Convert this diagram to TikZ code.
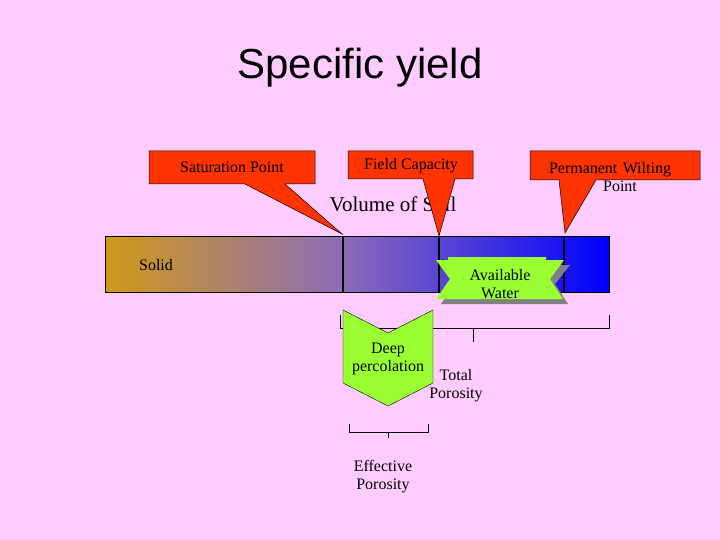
\documentclass[tikz,border=0pt]{standalone}
\usepackage{fontspec}
\setmainfont{Liberation Serif}
\newfontfamily\titlefont{Liberation Sans}
\begin{document}
\begin{tikzpicture}[x=1pt,y=-1pt,
  call/.style={fill=calred,draw=black,line width=0.5pt},
  lbl/.style={font=\fontsize{16}{18}\selectfont,align=center,inner sep=0pt},
  thick bar/.style={line width=2.5pt},
  brack/.style={line width=0.8pt}]
\definecolor{bg}{HTML}{FFCCFF}
\definecolor{calred}{HTML}{FF3300}
\definecolor{grn}{HTML}{99FF33}
\definecolor{gold}{HTML}{D09A18}
\definecolor{midp}{HTML}{8C6CB8}
\fill[bg] (0,0) rectangle (720,540);
\useasboundingbox (0,0) rectangle (720,540);
\node[font=\titlefont\fontsize{42}{46}\selectfont] (title) at (360,68) {Specific yield};
% bar
\shade[left color=gold,right color=midp] (105,236) rectangle (343,292);
\shade[left color=midp,right color=blue] (343,236) rectangle (609,292);
\draw[line width=0.8pt] (105,236) rectangle (609,292);
\draw[thick bar] (343,236) -- (343,292);
\draw[thick bar] (439,236) -- (439,292);
\draw[thick bar] (564,236) -- (564,292);
\node[lbl] (solid) at (156,265) {Solid};
\node[lbl] (air) at (448,265) {Air};
\node[lbl,font=\fontsize{21}{24}\selectfont] (vol) at (393,204) {Volume of Soil};
% callouts
\coordinate (sp) at (342,234);
\coordinate (fc) at (439,236);
\coordinate (pw) at (565,233);
\draw[call] (149,151) -- (315,151) -- (315,184) -- (285,184) -- (sp) -- (245,184) -- (149,184) -- cycle;
\node[lbl] (satp) at (232,167) {Saturation Point};
\draw[call] (348,151) -- (473,151) -- (473,179) -- (455,179) -- (fc) -- (423,179) -- (348,179) -- cycle;
\node[lbl] (fcap) at (411,166) {Field Capacity};
\draw[call] (530,151) -- (700,151) -- (700,180) -- (596,180) -- (pw) -- (559,180) -- (530,180) -- cycle;
\node[lbl,text width=180pt] (pwp) at (610,177) {Permanent Wilting\\ \hspace*{20pt}Point};
% available water
\fill[gray] (441,265) -- (570,265) -- (555,284) -- (568,304) -- (441,304) -- (455,284) -- cycle;
\fill[grn] (436,260) -- (448,260) -- (448,257) -- (546,257) -- (546,260) -- (564,260) -- (550,279) -- (563,299) -- (436,299) -- (450,279) -- cycle;
\node[lbl] (aw) at (500,284) {Available\\Water};
% total porosity bracket
\draw[brack] (340,315) -- (340,328) -- (609,328) -- (609,315);
\draw[brack] (473,328) -- (473,342);
% deep percolation
\draw[fill=grn,draw=black,line width=0.4pt] (343,310) -- (388,333) -- (433,310) -- (433,383) -- (388,406) -- (343,383) -- cycle;
\node[lbl] (dp) at (388,359) {Deep\\percolation};
\node[lbl] (tp) at (456,386) {Total\\Porosity};
% effective bracket
\draw[brack] (349,424) -- (349,432) -- (428,432) -- (428,424);
\draw[brack] (388,432) -- (388,438);
\node[lbl] (ep) at (383,477) {Effective\\Porosity};
\end{tikzpicture}
\end{document}
